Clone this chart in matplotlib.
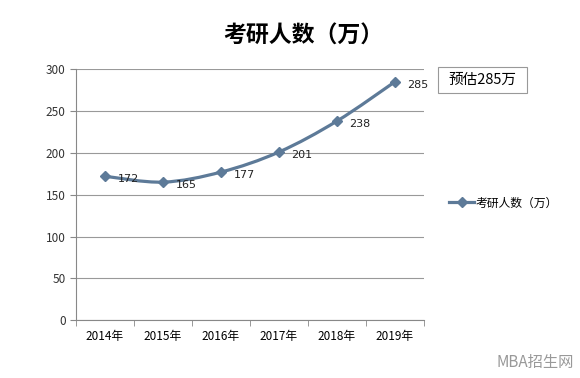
import matplotlib.pyplot as plt
import numpy as np
from matplotlib.path import Path
from matplotlib.patches import PathPatch, Rectangle

plt.rcParams['font.family'] = ['Noto Sans CJK SC', 'DejaVu Sans']

years = ['2014年', '2015年', '2016年', '2017年', '2018年', '2019年']
applicants = [172, 165, 177, 201, 238, 285]
series_name = '考研人数（万）'
line_color = '#5d7a98'

fig = plt.figure(figsize=(5.8, 3.78), dpi=100)
ax = fig.add_axes([0.131, 0.153, 0.6, 0.664])

x = np.arange(len(years))
y = np.array(applicants, dtype=float)

# smooth line like Excel: Catmull-Rom segments as bezier curves
verts = [(x[0], y[0])]
codes = [Path.MOVETO]
for i in range(len(x) - 1):
    p0 = (x[max(i - 1, 0)], y[max(i - 1, 0)])
    p1 = (x[i], y[i])
    p2 = (x[i + 1], y[i + 1])
    p3 = (x[min(i + 2, len(x) - 1)], y[min(i + 2, len(x) - 1)])
    c1 = (p1[0] + (p2[0] - p0[0]) / 6, p1[1] + (p2[1] - p0[1]) / 6)
    c2 = (p2[0] - (p3[0] - p1[0]) / 6, p2[1] - (p3[1] - p1[1]) / 6)
    verts += [c1, c2, p2]
    codes += [Path.CURVE4] * 3
ax.add_patch(PathPatch(Path(verts, codes), fill=False, edgecolor=line_color, lw=2.3, zorder=3))
ax.plot(x, y, linestyle='none', marker='D', ms=5, color=line_color, zorder=4)
ax.plot([], [], color=line_color, lw=2.3, marker='D', ms=5, label=series_name)

for xi, yi in zip(x, applicants):
    ax.annotate(str(yi), (xi, yi), xytext=(9, -2), textcoords='offset points',
                fontsize=8, va='center', ha='left', color='#222222', family='DejaVu Sans')

ax.set_xlim(-0.5, len(years) - 0.5)
ax.set_ylim(0, 300)
ax.set_yticks(range(0, 301, 50))
ax.set_xticks(x)
ax.set_xticklabels(years, fontsize=8.5)
ax.set_xticks(np.arange(-0.5, len(years)), minor=True)
ax.tick_params(axis='x', which='major', length=0, pad=7)
ax.tick_params(axis='x', which='minor', length=4, color='#888888')
ax.tick_params(axis='y', length=4, color='#888888', labelsize=8.5, labelcolor='#333333')
ax.yaxis.grid(True, color='#999999', lw=0.8)
ax.set_axisbelow(True)
for s in ['top', 'right']:
    ax.spines[s].set_visible(False)
for s in ['left', 'bottom']:
    ax.spines[s].set_color('#888888')

fig.text(0.523, 0.905, '考研人数（万）', fontsize=16.5, fontweight='bold', ha='center', va='center')

# callout box
fig.patches.append(Rectangle((0.755, 0.754), 0.153, 0.069, transform=fig.transFigure,
                             fc='white', ec='#999999', lw=0.8))
fig.text(0.773, 0.789, '预估285万', fontsize=10.5, ha='left', va='center')

fig.legend(loc='center left', bbox_to_anchor=(0.755, 0.463), frameon=False,
           fontsize=8.5, handlelength=2.2, handletextpad=0.1)

fig.text(0.99, 0.04, 'MBA招生网', fontsize=11, color='#999999', ha='right', va='center')

fig.savefig('out.png', dpi=100)
